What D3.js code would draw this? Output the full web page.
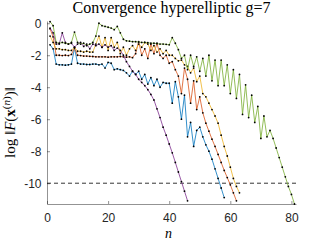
<!DOCTYPE html>
<html>
<head>
<meta charset="utf-8">
<script src="https://cdn.jsdelivr.net/npm/d3@7"></script>
<style>
    body { margin: 0; background: #fff; }
    svg { display: block; }
</style>
</head>
<body>
<script>
// log ||F(x^(n))|| for each run, starting at n = 1
const blueVals = [-1.35, -1.6, -2.55, -2.6, -2.6, -2.62, -2.6, -2.55, -1.55, -2.5,
    -2.55, -2.55, -2.58, -2.58, -2.55, -2.55, -2.6, -2.55, -2.8, -2.45,
    -2.5, -2.9, -2.85, -2.9, -2.95, -3.1, -3.3, -3.0, -3.2, -3.0,
    -3.5, -3.2, -3.8, -3.4, -3.9, -3.5, -4.0, -3.7, -3.75, -3.75,
    -5.0, -3.65, -4.6, -6.0, -4.5, -7.1, -6.2, -7.7, -6.7, -6.5,
    -7.1, -7.6, -8.0, -8.5, -9.1, -9.7, -10.3, -10.9];
const orangeVals = [-0.35, -0.85, -2.0, -2.0, -2.02, -2.0, -2.02, -1.95, -1.55, -2.0,
    -2.02, -2.05, -2.05, -2.07, -2.08, -2.1, -2.1, -2.1, -2.1, -2.12,
    -2.1, -2.1, -2.1, -2.08, -2.1, -2.12, -2.1, -2.15, -1.9, -1.15,
    -2.0, -1.6, -2.2, -1.3, -1.9, -1.25, -2.0, -2.2, -2.0, -2.5,
    -2.4, -2.9, -3.3, -4.4, -2.8, -3.5, -5.0, -3.6, -5.4, -4.6,
    -5.6, -6.25, -6.75, -7.25, -7.7, -8.2, -8.7, -9.2, -9.65, -10.1,
    -10.6, -11.1];
const yellowVals = [-0.8, -1.2, -1.6, -1.6, -1.65, -1.65, -1.7, -1.7, -1.5, -1.75,
    -1.75, -1.8, -1.75, -1.8, -1.8, -1.3, -0.8, -1.5, -0.9, -1.7,
    -0.9, -1.5, -1.2, -1.9, -1.5, -2.0, -1.6, -1.4, -1.7, -1.3,
    -1.5, -1.2, -1.3, -1.7, -1.4, -1.8, -1.6, -1.9, -1.7, -2.0,
    -2.0, -2.2, -2.35, -2.3, -2.6, -2.7, -3.1, -2.8, -3.65, -3.3,
    -4.4, -4.6, -5.0, -5.4, -5.8, -6.25, -7.0, -7.7, -8.3, -9.0,
    -9.7, -10.2, -10.6];
const purpleVals = [-0.3, -0.6, -1.3, -1.3, -0.6, -1.2, -1.3, -1.25, -1.5, -1.3,
    -1.2, -1.45, -1.3, -1.6, -1.3, -1.4, -1.3, -1.5, -1.35, -1.5,
    -1.4, -1.7, -1.55, -1.7, -2.0, -2.4, -2.7, -3.0, -3.2, -3.5,
    -3.7, -3.9, -4.15, -4.45, -4.8, -5.35, -5.9, -6.5, -7.0, -7.55,
    -8.1, -8.7, -9.3, -9.9, -10.5, -11.1];
const greenVals = [0.1, -0.15, -1.2, -1.25, -1.2, -1.25, -1.3, -1.2, -0.55, -1.2,
    -1.3, -1.25, -1.4, -1.3, -1.2, -0.8, 0.0, -0.15, -0.2, -0.25,
    -0.3, -0.4, -0.2, -0.6, -1.0, -1.1, -1.12, -1.15, -1.15, -1.18,
    -1.2, -1.2, -1.22, -1.25, -1.25, -1.28, -1.3, -1.3, -1.32, -1.35,
    -0.9, -1.25, -1.65, -2.2, -2.0, -2.9, -2.0, -2.7, -2.1, -3.0,
    -2.2, -3.3, -2.0, -3.6, -2.3, -3.9, -2.3, -3.9, -2.6, -4.4,
    -2.9, -4.7, -3.2, -5.7, -3.85, -5.9, -4.5, -6.2, -5.2, -7.2,
    -5.8, -7.1, -6.7, -7.2, -7.8, -8.4, -9.0, -9.6, -10.2, -10.7,
    -11.3];

const xTicks = [0, 20, 40, 60, 80];
const yTicks = [0, -2, -4, -6, -8, -10];
const tolLevel = -10;
const titleText = "Convergence hyperelliptic g=7";

document.addEventListener("DOMContentLoaded", () => {
    width = 327;
    height = 245;
    margin = { left: 47, right: 31, top: 21, bottom: 41 };

    svg = d3.select("body").append("svg").attr("width", width).attr("height", height);

    x = d3.scaleLinear().domain([0, 81.5]).range([margin.left, width - margin.right]);
    y = d3.scaleLinear().domain([-11.3, 0.14]).range([height - margin.bottom, margin.top]);

    // matlab default colour order
    series = [
        { vals: blueVals, color: "#0072BD" },
        { vals: orangeVals, color: "#D95319" },
        { vals: yellowVals, color: "#EDB120" },
        { vals: purpleVals, color: "#7E2F8E" },
        { vals: greenVals, color: "#77AC30" },
    ];

    // axes
    {
        let xAxis = svg.append("g")
            .attr("transform", `translate(0,${height - margin.bottom})`)
            .call(d3.axisBottom(x).tickValues(xTicks).tickSizeInner(-3).tickSizeOuter(0).tickPadding(9));
        let yAxis = svg.append("g")
            .attr("transform", `translate(${margin.left},0)`)
            .call(d3.axisLeft(y).tickValues(yTicks).tickFormat((d) => d === 0 ? "0" : `-${-d}`)
                .tickSizeInner(-3).tickSizeOuter(0).tickPadding(5.5));
        [xAxis, yAxis].forEach((a) => {
            a.selectAll("path, line").attr("stroke", "#262626").attr("stroke-width", 0.5);
            a.selectAll("text")
                .attr("fill", "#262626")
                .style("font-family", "'Liberation Sans', Arial, sans-serif")
                .style("font-size", "12px");
        });
    }

    // tolerance line
    svg.append("line")
        .attr("x1", x(0)).attr("x2", x(81.5))
        .attr("y1", y(tolLevel)).attr("y2", y(tolLevel))
        .attr("stroke", "#000").attr("stroke-width", 0.8)
        .attr("stroke-dasharray", "4,3");

    // runs
    {
        let line = d3.line().x((d, i) => x(i + 1)).y((d) => y(d));
        series.forEach((s) => {
            let g = svg.append("g");
            g.append("path")
                .datum(s.vals)
                .attr("d", line)
                .attr("fill", "none")
                .attr("stroke", s.color)
                .attr("stroke-width", 0.8);
            g.selectAll("circle")
                .data(s.vals)
                .enter()
                .append("circle")
                .attr("cx", (d, i) => x(i + 1))
                .attr("cy", (d) => y(d))
                .attr("r", 0.9)
                .attr("fill", "#000");
        });
    }

    // title and labels
    {
        svg.append("text")
            .text(titleText)
            .attr("x", (x(0) + x(81.5)) / 2)
            .attr("y", 13)
            .attr("text-anchor", "middle")
            .style("font-family", "'Liberation Serif', 'DejaVu Serif', serif")
            .style("font-size", "16px")
            .attr("fill", "#000");

        svg.append("text")
            .text("n")
            .attr("x", (x(0) + x(81.5)) / 2 - 3)
            .attr("y", 238)
            .attr("text-anchor", "middle")
            .style("font-family", "'Liberation Serif', serif")
            .style("font-style", "italic")
            .style("font-size", "14px");

        let yl = svg.append("text")
            .attr("transform", "translate(15,158) rotate(-90)")
            .attr("text-anchor", "start")
            .style("font-family", "'Liberation Serif', serif")
            .style("font-size", "15px");
        yl.append("tspan").text("log \u2016");
        yl.append("tspan").text("F").style("font-style", "italic");
        yl.append("tspan").text("(");
        yl.append("tspan").text("x").style("font-weight", "bold");
        yl.append("tspan").text("(").attr("dy", -5).style("font-size", "11px");
        yl.append("tspan").text("n").style("font-size", "11px").style("font-style", "italic");
        yl.append("tspan").text(")").style("font-size", "11px");
        yl.append("tspan").text(")\u2016").attr("dy", 5);
    }
});
</script>
</body>
</html>
